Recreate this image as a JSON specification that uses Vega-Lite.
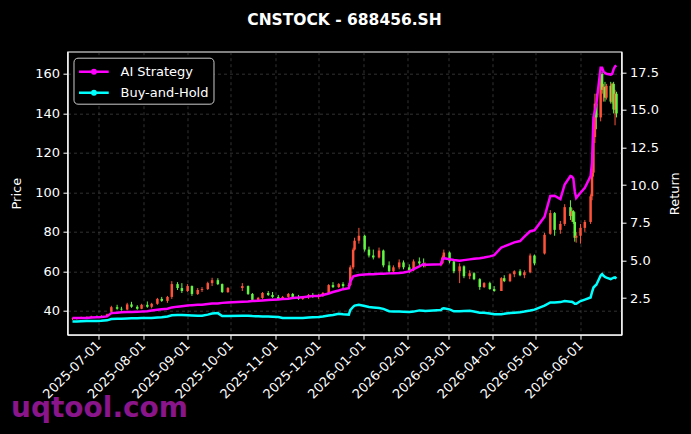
{
  "$schema": "https://vega.github.io/schema/vega-lite/v6.json",
  "width": 554,
  "height": 283,
  "autosize": {"type": "none"},
  "padding": {"left": 67.5, "top": 51.7, "right": 69.3, "bottom": 99.3},
  "background": "#000000",
  "title": {"text": "CNSTOCK - 688456.SH", "color": "#ffffff", "font": "DejaVu Sans", "fontSize": 15.5, "fontWeight": "bold", "anchor": "middle", "frame": "group", "baseline": "alphabetic", "offset": 11},
  "config": {
    "view": {"stroke": "#ffffff", "strokeWidth": 1.2, "fill": "#000000"},
    "axis": {
      "labelFont": "DejaVu Sans", "labelFontSize": 13, "labelColor": "#ffffff",
      "titleFont": "DejaVu Sans", "titleFontSize": 13, "titleColor": "#ffffff", "titleFontWeight": "normal",
      "domainColor": "#ffffff", "domainWidth": 1.2, "tickColor": "#ffffff", "tickSize": 4.5, "tickWidth": 1,
      "gridColor": "#6a6a6a", "gridDash": [3, 3], "gridWidth": 0.6, "gridOpacity": 0.8,
      "labelPadding": 3.5
    },
    "legend": {
      "orient": "top-left", "offset": 6, "fillColor": "#000000", "strokeColor": "#cccccc", "cornerRadius": 4,
      "padding": 4, "labelColor": "#ffffff", "labelFont": "DejaVu Sans", "labelFontSize": 13,
      "symbolType": "M-1,0H2.5M0.56,0A0.2,0.2 0 1,0 0.96,0A0.2,0.2 0 1,0 0.56,0", "symbolStrokeWidth": 2.5, "symbolSize": 289,
      "labelOffset": 23, "rowPadding": 4
    }
  },
  "data": {"values": [
    {"date": "2025-06-13", "open": 35.8, "high": 36.5, "low": 35.3, "close": 36.0, "ai": 1.17, "bh": 0.95},
    {"date": "2025-06-16", "open": 36.0, "high": 36.8, "low": 35.5, "close": 36.3, "ai": 1.17, "bh": 0.95},
    {"date": "2025-06-19", "open": 36.3, "high": 37.0, "low": 35.8, "close": 36.5, "ai": 1.17, "bh": 0.96},
    {"date": "2025-06-23", "open": 36.5, "high": 37.2, "low": 36.0, "close": 36.8, "ai": 1.18, "bh": 0.97},
    {"date": "2025-06-26", "open": 36.8, "high": 37.5, "low": 36.2, "close": 37.0, "ai": 1.20, "bh": 0.98},
    {"date": "2025-06-30", "open": 37.0, "high": 37.6, "low": 36.4, "close": 36.9, "ai": 1.22, "bh": 0.98},
    {"date": "2025-07-03", "open": 36.9, "high": 37.8, "low": 36.5, "close": 37.3, "ai": 1.24, "bh": 0.99},
    {"date": "2025-07-07", "open": 37.3, "high": 38.5, "low": 37.0, "close": 38.2, "ai": 1.28, "bh": 1.02},
    {"date": "2025-07-10", "open": 39.5, "high": 42.5, "low": 39.0, "close": 41.8, "ai": 1.50, "bh": 1.11},
    {"date": "2025-07-14", "open": 41.8, "high": 43.0, "low": 40.5, "close": 41.0, "ai": 1.53, "bh": 1.12},
    {"date": "2025-07-17", "open": 41.0, "high": 42.0, "low": 40.0, "close": 40.6, "ai": 1.55, "bh": 1.13},
    {"date": "2025-07-21", "open": 40.6, "high": 44.0, "low": 40.2, "close": 43.2, "ai": 1.57, "bh": 1.14},
    {"date": "2025-07-24", "open": 43.2, "high": 44.5, "low": 41.5, "close": 42.0, "ai": 1.58, "bh": 1.15},
    {"date": "2025-07-28", "open": 42.0, "high": 42.8, "low": 40.5, "close": 41.0, "ai": 1.59, "bh": 1.16},
    {"date": "2025-07-31", "open": 41.0, "high": 43.5, "low": 40.8, "close": 43.0, "ai": 1.60, "bh": 1.17},
    {"date": "2025-08-04", "open": 43.0, "high": 44.7, "low": 41.5, "close": 42.0, "ai": 1.63, "bh": 1.17},
    {"date": "2025-08-07", "open": 42.0, "high": 44.0, "low": 41.2, "close": 43.5, "ai": 1.67, "bh": 1.18},
    {"date": "2025-08-11", "open": 43.5, "high": 46.5, "low": 43.0, "close": 46.0, "ai": 1.72, "bh": 1.21},
    {"date": "2025-08-14", "open": 46.0, "high": 47.0, "low": 44.5, "close": 45.0, "ai": 1.75, "bh": 1.23},
    {"date": "2025-08-18", "open": 45.0, "high": 47.5, "low": 44.0, "close": 47.0, "ai": 1.79, "bh": 1.28},
    {"date": "2025-08-21", "open": 47.0, "high": 55.0, "low": 46.0, "close": 53.5, "ai": 1.88, "bh": 1.36},
    {"date": "2025-08-25", "open": 53.5, "high": 54.5, "low": 50.5, "close": 51.5, "ai": 1.93, "bh": 1.38},
    {"date": "2025-08-28", "open": 51.5, "high": 54.0, "low": 49.0, "close": 50.0, "ai": 1.96, "bh": 1.37},
    {"date": "2025-09-01", "open": 50.0, "high": 53.5, "low": 49.5, "close": 52.5, "ai": 2.00, "bh": 1.35},
    {"date": "2025-09-04", "open": 52.5, "high": 52.8, "low": 47.5, "close": 48.5, "ai": 2.03, "bh": 1.34},
    {"date": "2025-09-08", "open": 48.5, "high": 51.5, "low": 48.0, "close": 50.5, "ai": 2.05, "bh": 1.33},
    {"date": "2025-09-11", "open": 50.5, "high": 52.0, "low": 49.5, "close": 51.0, "ai": 2.06, "bh": 1.33},
    {"date": "2025-09-15", "open": 51.0, "high": 54.7, "low": 50.5, "close": 54.0, "ai": 2.10, "bh": 1.40},
    {"date": "2025-09-18", "open": 54.0, "high": 56.7, "low": 52.5, "close": 55.5, "ai": 2.13, "bh": 1.47},
    {"date": "2025-09-22", "open": 55.5, "high": 56.5, "low": 53.0, "close": 53.5, "ai": 2.14, "bh": 1.50},
    {"date": "2025-09-25", "open": 53.5, "high": 53.8, "low": 49.0, "close": 49.5, "ai": 2.18, "bh": 1.30},
    {"date": "2025-09-29", "open": 49.5, "high": 52.0, "low": 49.0, "close": 51.5, "ai": 2.21, "bh": 1.30},
    {"date": "2025-10-09", "open": 51.5, "high": 54.0, "low": 50.0, "close": 52.5, "ai": 2.25, "bh": 1.33},
    {"date": "2025-10-13", "open": 52.5, "high": 52.8, "low": 48.0, "close": 48.5, "ai": 2.27, "bh": 1.32},
    {"date": "2025-10-16", "open": 48.5, "high": 49.0, "low": 44.6, "close": 45.5, "ai": 2.30, "bh": 1.30},
    {"date": "2025-10-20", "open": 45.5, "high": 47.0, "low": 45.0, "close": 46.5, "ai": 2.32, "bh": 1.29},
    {"date": "2025-10-23", "open": 46.5, "high": 49.5, "low": 46.0, "close": 49.0, "ai": 2.34, "bh": 1.28},
    {"date": "2025-10-27", "open": 49.0, "high": 50.0, "low": 47.5, "close": 48.0, "ai": 2.37, "bh": 1.27},
    {"date": "2025-10-30", "open": 48.0, "high": 49.5, "low": 46.5, "close": 47.0, "ai": 2.39, "bh": 1.26},
    {"date": "2025-11-03", "open": 47.0, "high": 48.0, "low": 45.5, "close": 46.0, "ai": 2.41, "bh": 1.24},
    {"date": "2025-11-06", "open": 46.0, "high": 47.5, "low": 45.5, "close": 47.0, "ai": 2.43, "bh": 1.17},
    {"date": "2025-11-10", "open": 47.0, "high": 49.0, "low": 46.5, "close": 48.5, "ai": 2.46, "bh": 1.17},
    {"date": "2025-11-13", "open": 48.5, "high": 49.0, "low": 46.5, "close": 47.0, "ai": 2.50, "bh": 1.17},
    {"date": "2025-11-17", "open": 47.0, "high": 48.0, "low": 45.5, "close": 46.0, "ai": 2.53, "bh": 1.17},
    {"date": "2025-11-20", "open": 46.0, "high": 47.5, "low": 45.5, "close": 47.0, "ai": 2.56, "bh": 1.18},
    {"date": "2025-11-24", "open": 47.0, "high": 48.5, "low": 46.0, "close": 48.0, "ai": 2.60, "bh": 1.20},
    {"date": "2025-11-27", "open": 48.0, "high": 49.0, "low": 46.5, "close": 47.0, "ai": 2.63, "bh": 1.22},
    {"date": "2025-12-01", "open": 47.0, "high": 48.5, "low": 46.0, "close": 48.0, "ai": 2.64, "bh": 1.24},
    {"date": "2025-12-04", "open": 48.0, "high": 49.5, "low": 47.0, "close": 49.0, "ai": 2.70, "bh": 1.27},
    {"date": "2025-12-08", "open": 49.0, "high": 53.5, "low": 48.5, "close": 53.0, "ai": 2.80, "bh": 1.34},
    {"date": "2025-12-11", "open": 53.0, "high": 54.5, "low": 51.5, "close": 52.0, "ai": 2.90, "bh": 1.38},
    {"date": "2025-12-15", "open": 52.0, "high": 54.0, "low": 51.5, "close": 53.5, "ai": 3.00, "bh": 1.45},
    {"date": "2025-12-18", "open": 53.5, "high": 54.5, "low": 51.0, "close": 52.5, "ai": 3.09, "bh": 1.42},
    {"date": "2025-12-22", "open": 52.5, "high": 54.0, "low": 51.5, "close": 53.0, "ai": 3.16, "bh": 1.40},
    {"date": "2025-12-23", "open": 53.0, "high": 63.0, "low": 52.5, "close": 62.0, "ai": 3.60, "bh": 1.70},
    {"date": "2025-12-25", "open": 62.0, "high": 72.0, "low": 61.0, "close": 71.0, "ai": 3.93, "bh": 1.92},
    {"date": "2025-12-26", "open": 71.0, "high": 77.0, "low": 70.5, "close": 75.5, "ai": 3.97, "bh": 2.00},
    {"date": "2025-12-29", "open": 75.5, "high": 82.0, "low": 74.0, "close": 78.0, "ai": 4.03, "bh": 2.05},
    {"date": "2026-01-02", "open": 78.0, "high": 78.5, "low": 70.0, "close": 71.0, "ai": 4.06, "bh": 1.97},
    {"date": "2026-01-05", "open": 71.0, "high": 72.5, "low": 67.0, "close": 68.0, "ai": 4.08, "bh": 1.90},
    {"date": "2026-01-08", "open": 68.0, "high": 71.0, "low": 66.0, "close": 67.0, "ai": 4.09, "bh": 1.88},
    {"date": "2026-01-12", "open": 67.0, "high": 72.0, "low": 66.5, "close": 70.5, "ai": 4.11, "bh": 1.84},
    {"date": "2026-01-15", "open": 70.5, "high": 71.0, "low": 62.0, "close": 63.0, "ai": 4.12, "bh": 1.78},
    {"date": "2026-01-19", "open": 63.0, "high": 65.0, "low": 59.0, "close": 60.0, "ai": 4.14, "bh": 1.63},
    {"date": "2026-01-22", "open": 60.0, "high": 63.0, "low": 59.5, "close": 62.0, "ai": 4.15, "bh": 1.61},
    {"date": "2026-01-26", "open": 62.0, "high": 66.0, "low": 61.0, "close": 64.5, "ai": 4.16, "bh": 1.61},
    {"date": "2026-01-29", "open": 64.5, "high": 65.5, "low": 61.0, "close": 62.0, "ai": 4.20, "bh": 1.59},
    {"date": "2026-02-02", "open": 62.0, "high": 63.5, "low": 59.0, "close": 60.5, "ai": 4.27, "bh": 1.57},
    {"date": "2026-02-05", "open": 60.5, "high": 66.0, "low": 60.0, "close": 65.0, "ai": 4.42, "bh": 1.60},
    {"date": "2026-02-09", "open": 65.0, "high": 67.0, "low": 63.0, "close": 64.0, "ai": 4.60, "bh": 1.68},
    {"date": "2026-02-12", "open": 64.0, "high": 66.5, "low": 62.0, "close": 63.0, "ai": 4.75, "bh": 1.66},
    {"date": "2026-02-13", "open": 63.0, "high": 64.5, "low": 62.0, "close": 63.5, "ai": 4.72, "bh": 1.64},
    {"date": "2026-02-24", "open": 63.5, "high": 65.0, "low": 62.5, "close": 64.0, "ai": 4.75, "bh": 1.70},
    {"date": "2026-02-25", "open": 64.0, "high": 68.0, "low": 63.5, "close": 67.0, "ai": 5.05, "bh": 1.80},
    {"date": "2026-02-26", "open": 67.0, "high": 71.0, "low": 66.0, "close": 69.5, "ai": 5.15, "bh": 1.82},
    {"date": "2026-03-02", "open": 69.5, "high": 70.0, "low": 64.0, "close": 65.0, "ai": 5.08, "bh": 1.75},
    {"date": "2026-03-05", "open": 65.0, "high": 66.0, "low": 59.0, "close": 60.0, "ai": 5.03, "bh": 1.62},
    {"date": "2026-03-09", "open": 60.0, "high": 64.0, "low": 54.0, "close": 62.5, "ai": 4.98, "bh": 1.63},
    {"date": "2026-03-12", "open": 62.5, "high": 63.0, "low": 56.5, "close": 57.5, "ai": 5.02, "bh": 1.64},
    {"date": "2026-03-16", "open": 57.5, "high": 60.5, "low": 56.0, "close": 59.0, "ai": 5.07, "bh": 1.65},
    {"date": "2026-03-19", "open": 59.0, "high": 59.5, "low": 55.5, "close": 56.0, "ai": 5.11, "bh": 1.60},
    {"date": "2026-03-23", "open": 56.0, "high": 56.5, "low": 50.6, "close": 52.0, "ai": 5.15, "bh": 1.53},
    {"date": "2026-03-26", "open": 52.0, "high": 54.5, "low": 51.5, "close": 54.0, "ai": 5.19, "bh": 1.52},
    {"date": "2026-03-30", "open": 54.0, "high": 54.7, "low": 50.6, "close": 51.0, "ai": 5.27, "bh": 1.48},
    {"date": "2026-04-02", "open": 51.0, "high": 52.5, "low": 49.6, "close": 50.0, "ai": 5.35, "bh": 1.42},
    {"date": "2026-04-07", "open": 50.0, "high": 57.0, "low": 50.0, "close": 56.5, "ai": 5.86, "bh": 1.43},
    {"date": "2026-04-09", "open": 56.5, "high": 58.0, "low": 54.5, "close": 55.0, "ai": 5.93, "bh": 1.45},
    {"date": "2026-04-13", "open": 55.0, "high": 59.0, "low": 54.5, "close": 58.5, "ai": 6.08, "bh": 1.50},
    {"date": "2026-04-16", "open": 58.5, "high": 60.5, "low": 57.0, "close": 60.0, "ai": 6.20, "bh": 1.53},
    {"date": "2026-04-20", "open": 60.0, "high": 61.0, "low": 57.5, "close": 58.0, "ai": 6.29, "bh": 1.56},
    {"date": "2026-04-23", "open": 58.0, "high": 60.5, "low": 56.5, "close": 59.5, "ai": 6.58, "bh": 1.60},
    {"date": "2026-04-27", "open": 59.5, "high": 69.0, "low": 59.0, "close": 68.0, "ai": 6.94, "bh": 1.67},
    {"date": "2026-04-30", "open": 68.0, "high": 68.5, "low": 63.0, "close": 64.0, "ai": 7.00, "bh": 1.73},
    {"date": "2026-05-07", "open": 69.0, "high": 79.5, "low": 68.5, "close": 78.5, "ai": 7.90, "bh": 2.00},
    {"date": "2026-05-11", "open": 79.0, "high": 91.0, "low": 78.5, "close": 89.5, "ai": 9.28, "bh": 2.21},
    {"date": "2026-05-14", "open": 89.5, "high": 90.0, "low": 78.0, "close": 81.0, "ai": 9.30, "bh": 2.20},
    {"date": "2026-05-18", "open": 81.0, "high": 85.5, "low": 79.0, "close": 84.0, "ai": 9.08, "bh": 2.23},
    {"date": "2026-05-21", "open": 84.0, "high": 94.0, "low": 83.0, "close": 92.5, "ai": 10.05, "bh": 2.30},
    {"date": "2026-05-25", "open": 92.5, "high": 96.0, "low": 86.0, "close": 88.0, "ai": 10.61, "bh": 2.26},
    {"date": "2026-05-26", "open": 88.0, "high": 92.0, "low": 85.0, "close": 90.5, "ai": 10.58, "bh": 2.25},
    {"date": "2026-05-27", "open": 90.5, "high": 91.0, "low": 84.0, "close": 85.0, "ai": 10.45, "bh": 2.20},
    {"date": "2026-05-28", "open": 85.0, "high": 90.0, "low": 75.0, "close": 77.0, "ai": 9.60, "bh": 2.12},
    {"date": "2026-05-29", "open": 77.0, "high": 80.0, "low": 74.5, "close": 78.0, "ai": 9.15, "bh": 2.12},
    {"date": "2026-06-01", "open": 78.0, "high": 84.0, "low": 74.0, "close": 82.0, "ai": 9.50, "bh": 2.30},
    {"date": "2026-06-04", "open": 82.0, "high": 86.0, "low": 80.0, "close": 85.0, "ai": 9.83, "bh": 2.40},
    {"date": "2026-06-08", "open": 85.0, "high": 99.0, "low": 84.0, "close": 98.0, "ai": 10.60, "bh": 2.54},
    {"date": "2026-06-09", "open": 98.0, "high": 112.0, "low": 96.0, "close": 110.0, "ai": 11.50, "bh": 2.90},
    {"date": "2026-06-10", "open": 110.0, "high": 130.0, "low": 108.0, "close": 128.0, "ai": 14.50, "bh": 3.20},
    {"date": "2026-06-11", "open": 128.0, "high": 150.0, "low": 125.0, "close": 145.0, "ai": 14.95, "bh": 3.30},
    {"date": "2026-06-12", "open": 145.0, "high": 150.0, "low": 132.0, "close": 138.0, "ai": 15.40, "bh": 3.38},
    {"date": "2026-06-15", "open": 138.0, "high": 161.5, "low": 136.0, "close": 160.0, "ai": 17.80, "bh": 4.00},
    {"date": "2026-06-16", "open": 160.0, "high": 161.0, "low": 150.0, "close": 152.0, "ai": 17.80, "bh": 4.09},
    {"date": "2026-06-17", "open": 152.0, "high": 155.0, "low": 146.0, "close": 153.5, "ai": 17.55, "bh": 3.98},
    {"date": "2026-06-18", "open": 153.5, "high": 156.0, "low": 146.0, "close": 148.0, "ai": 17.46, "bh": 3.90},
    {"date": "2026-06-19", "open": 148.0, "high": 155.0, "low": 147.0, "close": 154.0, "ai": 17.40, "bh": 3.86},
    {"date": "2026-06-22", "open": 154.0, "high": 156.0, "low": 145.0, "close": 146.0, "ai": 17.35, "bh": 3.76},
    {"date": "2026-06-23", "open": 146.0, "high": 155.5, "low": 145.0, "close": 155.0, "ai": 17.40, "bh": 3.80},
    {"date": "2026-06-24", "open": 155.0, "high": 156.0, "low": 140.0, "close": 142.0, "ai": 17.70, "bh": 3.85},
    {"date": "2026-06-25", "open": 142.0, "high": 152.0, "low": 134.0, "close": 150.0, "ai": 17.90, "bh": 3.87},
    {"date": "2026-06-26", "open": 150.0, "high": 151.0, "low": 138.0, "close": 140.0, "ai": 17.95, "bh": 3.80}
  ]},
  "encoding": {
    "x": {
      "field": "date", "type": "temporal",
      "scale": {"type": "utc", "domain": [{"year": 2025, "month": 6, "date": 13, "utc": true}, {"year": 2026, "month": 6, "date": 26, "utc": true}], "nice": false},
      "axis": {
        "format": "%Y-%m-%d", "tickCount": {"interval": "month", "step": 1},
        "labelAngle": -45, "labelAlign": "right", "labelBaseline": "middle", "labelOverlap": false, "labelFlush": false,
        "grid": true,
        "title": "uqtool.com", "titleColor": "#8a158a", "titleFontSize": 28, "titleFontWeight": "bold",
        "titleAlign": "left", "titleAnchor": "start", "titleBaseline": "alphabetic", "titleX": -57, "titleY": 82
      }
    }
  },
  "layer": [
    {
      "layer": [
        {
          "mark": {"type": "rule", "strokeWidth": 1},
          "encoding": {
            "y": {"field": "low", "type": "quantitative", "scale": {"domain": [27.85, 171.3], "nice": false, "zero": false},
              "axis": {"title": "Price", "values": [40, 60, 80, 100, 120, 140, 160], "grid": true, "titleX": -51, "titleY": 141.5, "titleBaseline": "middle", "titleAngle": -90}},
            "y2": {"field": "high"},
            "color": {"condition": {"test": "datum.close >= datum.open", "value": "#ff5238"}, "value": "#62f542"}
          }
        },
        {
          "mark": {"type": "bar", "width": 2.5},
          "encoding": {
            "y": {"field": "open", "type": "quantitative"},
            "y2": {"field": "close"},
            "color": {"condition": {"test": "datum.close >= datum.open", "value": "#ff5238"}, "value": "#62f542"}
          }
        }
      ]
    },
    {
      "layer": [
        {
          "mark": {"type": "line", "strokeWidth": 2.5},
          "encoding": {
            "y": {"field": "ai", "type": "quantitative", "scale": {"domain": [0.065, 18.87], "nice": false, "zero": false},
              "axis": {"orient": "right", "title": "Return", "values": [2.5, 5, 7.5, 10, 12.5, 15, 17.5], "format": ".1f", "grid": false, "titleX": 53.3, "titleY": 141.5, "titleBaseline": "middle", "titleAngle": -90}},
            "color": {"datum": "AI Strategy", "type": "nominal", "scale": {"domain": ["AI Strategy", "Buy-and-Hold"], "range": ["#ff00ff", "#00ffff"]}, "legend": {"title": null}}
          }
        },
        {
          "mark": {"type": "line", "strokeWidth": 2.5},
          "encoding": {
            "y": {"field": "bh", "type": "quantitative", "title": "Return"},
            "color": {"datum": "Buy-and-Hold", "type": "nominal"}
          }
        }
      ]
    }
  ],
  "resolve": {"scale": {"y": "independent"}}
}
